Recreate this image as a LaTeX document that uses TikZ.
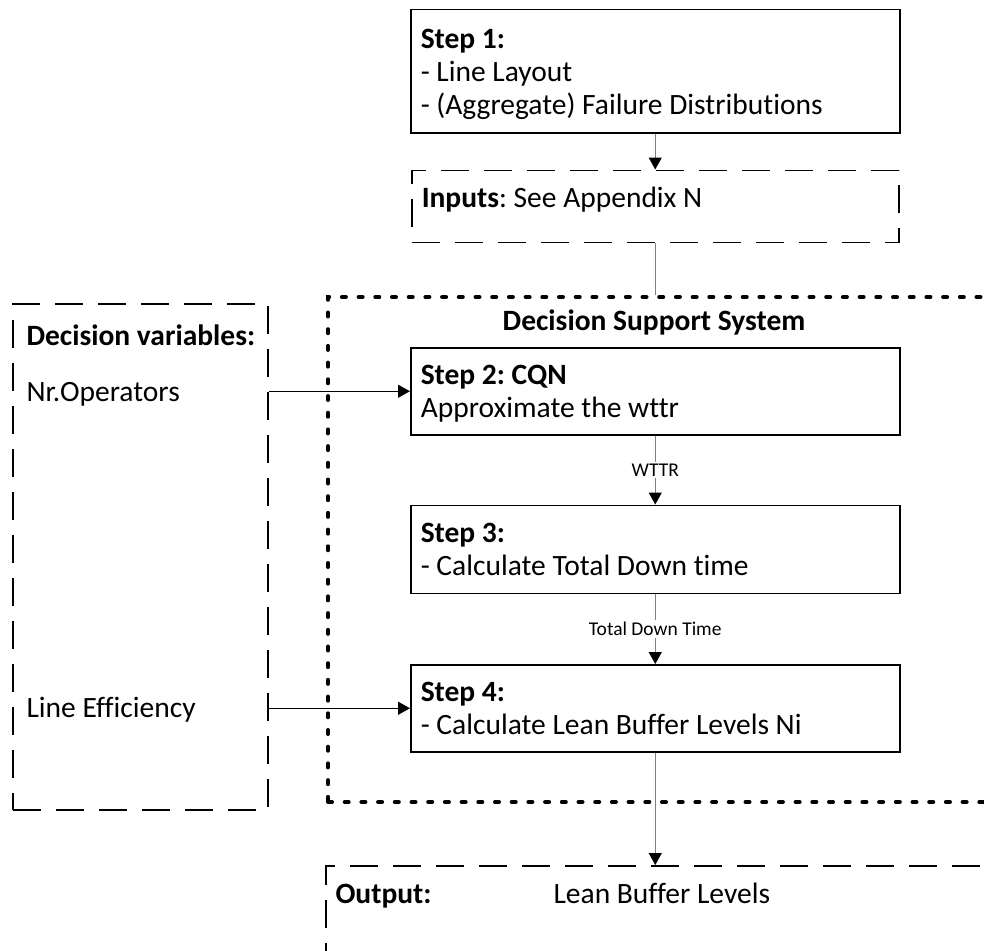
\documentclass[tikz,border=0pt]{standalone}
\usepackage{fontspec}
\setmainfont{Carlito}[Ligatures=NoCommon]
\usetikzlibrary{arrows.meta,positioning}
\newcommand{\hstrut}{\rule{0pt}{28pt}}
\newcommand{\dstrut}{\rule[-8pt]{0pt}{8pt}}

\begin{document}
\begin{tikzpicture}[x=1pt,y=-1pt,
	>={Triangle[length=12pt,width=13pt,color=black]},
	font=\fontsize{29.5}{33}\selectfont\frenchspacing,
	stepbox/.style={draw,line width=1.5pt,anchor=north west,minimum width=489pt,text width=469pt,inner xsep=10pt,inner ysep=0pt,align=flush left},
	dashbox/.style={draw,line width=1.5pt,dash pattern=on 28pt off 15pt,anchor=north west,inner sep=0pt},
	dotbox/.style={draw,line width=4pt,line cap=round,dash pattern=on 4pt off 12.7pt,anchor=north west,inner sep=0pt},
	flow/.style={->,draw=black!50,line width=1.2pt},
	feed/.style={->,line width=1.2pt},
	lbl/.style={fill=white,font=\fontsize{19.5}{22}\selectfont,inner sep=2pt}]
\useasboundingbox (0,0) rectangle (984,950);
\clip (0,0) rectangle (984,950);

\node[stepbox,minimum height=123pt] (s1) at (410,9) {\textbf{Step 1:}\hstrut\\- Line Layout\\- (Aggregate) Failure Distributions\dstrut};
\node[dashbox,minimum width=487pt,minimum height=72pt,text width=467pt,inner xsep=10pt,align=flush left,text height=22pt,text depth=20pt] (inp) [below=36pt of s1] {\textbf{Inputs}: See Appendix N};

\node[dotbox,minimum width=700pt,minimum height=505pt] (dss) at (326,295) {};
\node[anchor=base] (dsst) at (654,330) {\textbf{Decision Support System}};
\node[stepbox,minimum height=87pt] (s2) at (410,347) {\textbf{Step 2: CQN}\hstrut\\Approximate the wttr\dstrut};
\node[stepbox,minimum height=88pt] (s3) [below=69pt of s2] {\textbf{Step 3:}\hstrut\\- Calculate Total Down time\dstrut};
\node[stepbox,minimum height=87pt] (s4) [below=70pt of s3] {\textbf{Step 4:}\hstrut\\- Calculate Lean Buffer Levels Ni\dstrut};

\node[dashbox,minimum width=255pt,minimum height=506pt] (dv) at (12,303) {};
\node[anchor=base west] (dvt) at (23,345) {\textbf{Decision variables:}};
\node[anchor=base west] (nrop) at (23,401) {Nr.Operators};
\node[anchor=base west] (leff) at (23,717) {Line Efficiency};

\node[dashbox,minimum width=700pt,minimum height=200pt] (out) at (325,865) {};
\node[anchor=base west] (outt) at (332,903) {\textbf{Output:}};
\node[anchor=base west] (outv) at (550,903) {Lean Buffer Levels};

\draw[flow] (s1) -- (inp);
\draw[flow,-] (inp) -- (inp.south |- dss.north);
\draw[flow] (s2) -- node[lbl] {WTTR} (s3);
\draw[flow] (s3) -- node[lbl] {Total Down Time} (s4);
\draw[flow] (s4) -- (s4.south |- out.north);
\draw[feed] (s2.west -| dv.east) -- (s2.west);
\draw[feed] (s4.west -| dv.east) -- (s4.west);
\end{tikzpicture}
\end{document}
